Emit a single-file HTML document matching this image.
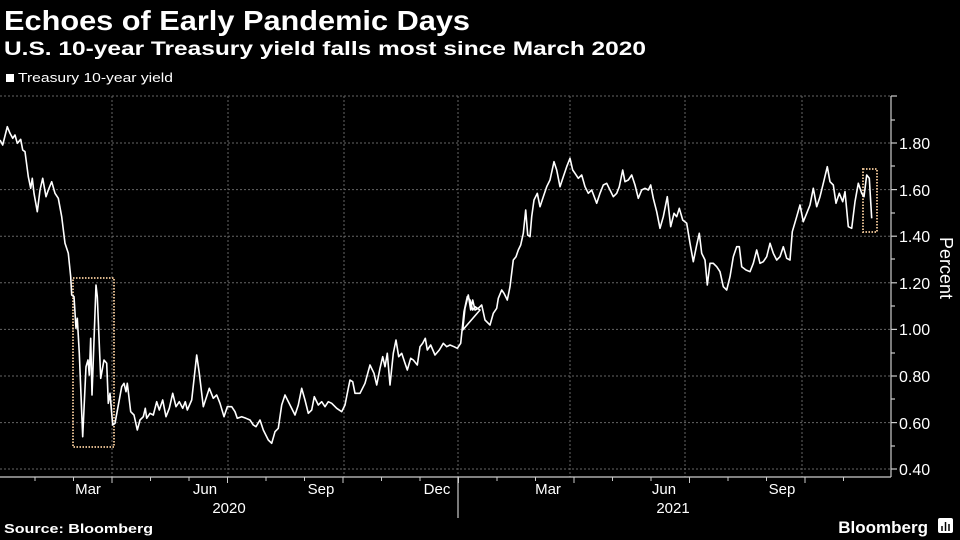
<!DOCTYPE html><html><head><style>
body{margin:0;background:#000;width:960px;height:540px;overflow:hidden;font-family:"Liberation Sans",sans-serif;color:#fff}
</style></head><body>
<svg width="960" height="540" xmlns="http://www.w3.org/2000/svg" style="position:absolute;left:0;top:0">
<text x="4" y="30" font-size="28" font-weight="bold" fill="#fff" textLength="466" lengthAdjust="spacingAndGlyphs">Echoes of Early Pandemic Days</text>
<text x="4" y="55" font-size="19" font-weight="bold" fill="#fff" textLength="642" lengthAdjust="spacingAndGlyphs">U.S. 10-year Treasury yield falls most since March 2020</text>
<rect x="6" y="74" width="8" height="8" fill="#fff"/>
<text x="18" y="82" font-size="13" fill="#fff" textLength="155" lengthAdjust="spacingAndGlyphs">Treasury 10-year yield</text>
<g stroke="#666" stroke-width="1" stroke-dasharray="2,2">
<line x1="0" x2="891" y1="143" y2="143"/><line x1="0" x2="891" y1="189.6" y2="189.6"/><line x1="0" x2="891" y1="236.2" y2="236.2"/><line x1="0" x2="891" y1="282.8" y2="282.8"/><line x1="0" x2="891" y1="329.4" y2="329.4"/><line x1="0" x2="891" y1="376" y2="376"/><line x1="0" x2="891" y1="422.6" y2="422.6"/><line x1="0" x2="891" y1="469" y2="469"/><line x1="0" x2="891" y1="96" y2="96"/>
<line x1="112" x2="112" y1="96" y2="477"/><line x1="228" x2="228" y1="96" y2="477"/><line x1="344" x2="344" y1="96" y2="477"/><line x1="458" x2="458" y1="96" y2="477"/><line x1="570" x2="570" y1="96" y2="477"/><line x1="685" x2="685" y1="96" y2="477"/><line x1="802" x2="802" y1="96" y2="477"/>
</g>
<g stroke="#ccc" stroke-width="1.2">
<line x1="0" x2="891" y1="477" y2="477"/><line x1="891" x2="891" y1="96" y2="477"/>
<line x1="891" x2="897" y1="96" y2="96"/><line x1="891" x2="897" y1="143" y2="143"/><line x1="891" x2="897" y1="189.6" y2="189.6"/><line x1="891" x2="897" y1="236.2" y2="236.2"/><line x1="891" x2="897" y1="282.8" y2="282.8"/><line x1="891" x2="897" y1="329.4" y2="329.4"/><line x1="891" x2="897" y1="376" y2="376"/><line x1="891" x2="897" y1="422.6" y2="422.6"/><line x1="891" x2="897" y1="469" y2="469"/>
<line x1="891" x2="895" y1="120" y2="120"/><line x1="891" x2="895" y1="166" y2="166"/><line x1="891" x2="895" y1="213" y2="213"/><line x1="891" x2="895" y1="259" y2="259"/><line x1="891" x2="895" y1="306" y2="306"/><line x1="891" x2="895" y1="353" y2="353"/><line x1="891" x2="895" y1="399" y2="399"/><line x1="891" x2="895" y1="446" y2="446"/>
<line x1="458" x2="458" y1="477" y2="518"/>
</g>
<g id="xt" stroke="#ccc" stroke-width="1"></g>
<g font-size="16" fill="#fff">
<text x="899" y="149">1.80</text><text x="899" y="196">1.60</text><text x="899" y="242">1.40</text><text x="899" y="289">1.20</text><text x="899" y="335">1.00</text><text x="899" y="382">0.80</text><text x="899" y="429">0.60</text><text x="899" y="475">0.40</text>
</g>
<text transform="translate(940,268) rotate(90)" font-size="18" fill="#fff" text-anchor="middle">Percent</text>
<g font-size="15" fill="#fff" text-anchor="middle">
<text x="88" y="494">Mar</text><text x="205" y="494">Jun</text><text x="321" y="494">Sep</text><text x="437" y="494">Dec</text><text x="548" y="494">Mar</text><text x="664" y="494">Jun</text><text x="782" y="494">Sep</text>
<text x="229" y="513">2020</text><text x="673" y="513">2021</text>
</g>
<rect x="73" y="278" width="41" height="169" fill="none" stroke="#d9b48a" stroke-width="2" stroke-dasharray="1.5,1.5"/>
<rect x="863" y="169" width="14" height="63" fill="none" stroke="#d9b48a" stroke-width="2" stroke-dasharray="1.5,1.5"/>
<path id="ln" fill="none" stroke="#fff" stroke-width="1.6" stroke-linejoin="round"/>
<text x="4" y="533" font-size="13" font-weight="bold" fill="#fff" textLength="149" lengthAdjust="spacingAndGlyphs">Source: Bloomberg</text>
<text x="928" y="533" font-size="17" font-weight="bold" fill="#fff" text-anchor="end">Bloomberg</text>
<rect x="938" y="518" width="15" height="15" fill="#fff" rx="2"/>
<g stroke="#000" stroke-width="1.5"><line x1="942" x2="942" y1="526" y2="531"/><line x1="945.5" x2="945.5" y1="522" y2="531"/><line x1="949" x2="949" y1="524" y2="531"/></g>
</svg>
<script>
var a=[0,150,8,165,22,110,30,130,38,145,45,135,52,160,62,148,68,180,75,185,85,260,92,295,97,265,102,310,112,365,120,300,128,265,138,320,145,300,155,275,165,310,175,325,185,380,195,460,205,490,212,560,215,615,222,620,228,715,232,685,238,790,248,1040,258,830,264,810,268,855,272,745,276,915,280,810,288,585,292,620,302,865,312,810,320,820,325,940,330,910,338,1005,345,1000,365,890,372,880,378,905,382,880,392,965,402,975,412,1020,420,990,430,980,436,955,440,985,450,970,460,975,470,935,478,960,488,930,498,980,508,955,518,910,528,950,538,935,548,955,556,935,562,960,575,930,590,795,598,850,610,950,628,895,640,925,650,915,660,940,672,980,682,950,695,950,705,965,712,985,725,980,738,985,750,990,760,1005,768,1010,780,990,790,1020,805,1050,815,1060,825,1025,835,1015,845,945,855,915,870,945,885,975,895,945,905,895,915,930,925,970,935,960,943,920,955,945,965,935,975,950,985,935,995,940,1010,955,1025,965,1035,945,1045,895,1050,870,1058,875,1065,910,1080,910,1095,880,1110,825,1122,850,1130,885,1140,835,1148,800,1155,830,1162,790,1170,885,1180,790,1188,750,1196,800,1205,790,1215,820,1222,840,1232,805,1240,810,1252,825,1260,770,1268,760,1276,745,1282,780,1292,765,1305,795,1318,780,1330,760,1340,770,1350,765,1362,770,1372,775,1382,760,1392,665,1402,620,1410,630,1418,660,1425,650,1440,660];
var b=[0,780,8,720,15,655,25,615,32,660,38,630,45,660,55,655,65,645,75,690,85,700,90,705,100,670,110,655,115,625,125,600,132,610,142,630,150,590,160,510,168,500,175,480,182,465,190,430,197,360,203,435,210,440,215,380,222,330,232,310,240,350,250,320,260,290,270,270,282,215,290,240,300,290,310,260,320,230,330,205,338,240,345,250,355,265,365,255,375,290,385,310,395,300,410,340,420,310,430,285,440,280,450,300,460,320,470,310,478,290,488,240,495,275,505,270,515,255,525,285,535,325,545,300,555,295,565,300,572,285,580,325,590,365,600,415,610,380,622,320,632,410,642,370,650,380,658,355,668,390,680,400,690,460,700,515,710,465,718,430,725,490,735,510,742,585,750,520,760,520,770,530,780,545,790,590,800,600,810,560,820,500,830,470,838,470,845,530,858,540,870,545,880,520,890,480,900,520,910,515,920,500,930,460,940,490,950,510,960,500,970,470,980,505,990,510,997,425,1010,380,1020,345,1030,395,1040,370,1050,345,1060,295,1070,350,1080,320,1090,280,1102,230,1110,275,1120,285,1128,340,1138,310,1148,335,1155,305,1165,410,1175,415,1185,335,1195,280,1205,310,1212,320,1220,255,1228,265,1235,385];
var d="";
for(var i=0;i<a.length;i+=2){d+=(i?"L":"M")+(a[i]/3).toFixed(1)+","+(90+a[i+1]/3).toFixed(1);}
for(var i=2;i<b.length;i+=2){d+="L"+(460+b[i]/3).toFixed(1)+","+(90+b[i+1]/3).toFixed(1);}
document.getElementById("ln").setAttribute("d",d);
var g=document.getElementById("xt"),s="";
for(var k=-2;k<23;k++){var x=112+k*38.5;if(x>0&&x<880)s+='<line x1="'+x+'" x2="'+x+'" y1="477" y2="'+(k%3==0?483:481)+'"/>';}
g.innerHTML=s;
</script>
</body></html>
